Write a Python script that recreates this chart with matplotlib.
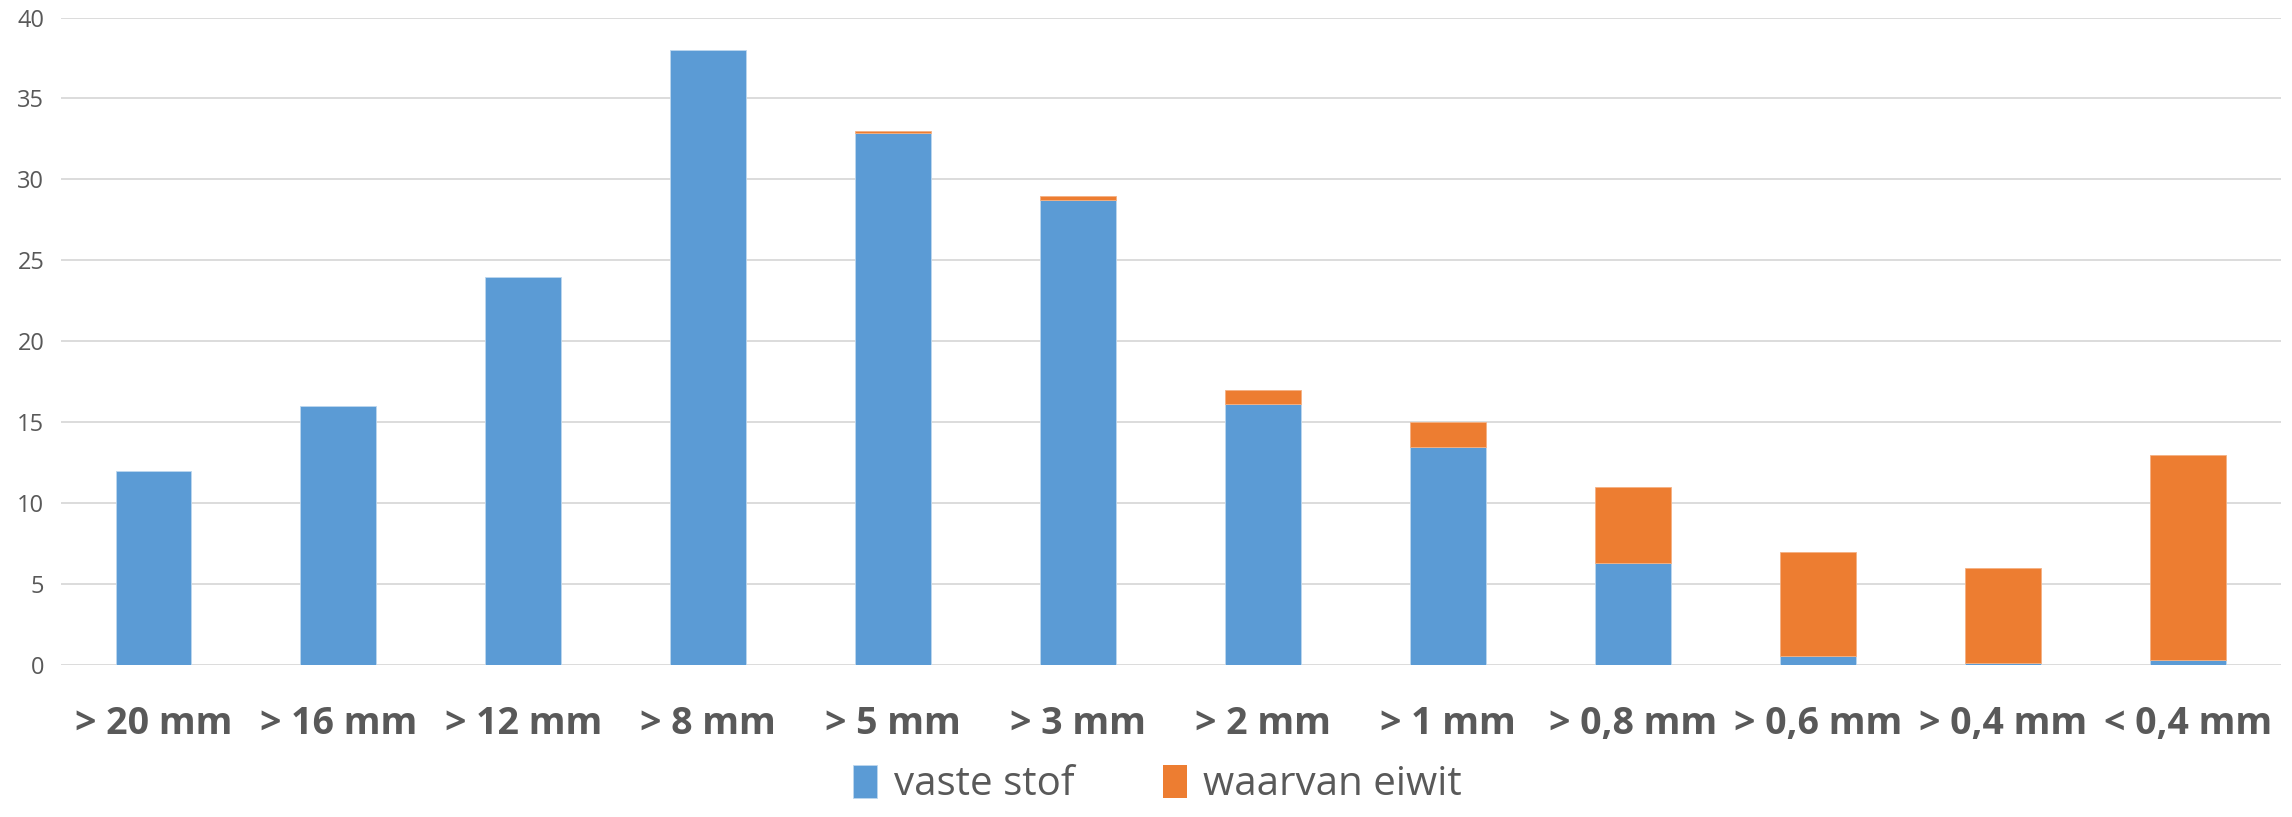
import matplotlib
matplotlib.use('Agg')
import matplotlib.pyplot as plt
import numpy as np
from matplotlib import font_manager

categories = ['> 20 mm', '> 16 mm', '> 12 mm', '> 8 mm', '> 5 mm', '> 3 mm',
              '> 2 mm', '> 1 mm', '> 0,8 mm', '> 0,6 mm', '> 0,4 mm', '< 0,4 mm']
vaste_stof = [12, 16, 24, 38, 32.85, 28.7, 16.1, 13.5, 6.3, 0.55, 0.15, 0.3]
eiwit = [0, 0, 0, 0, 0.15, 0.3, 0.9, 1.5, 4.7, 6.45, 5.85, 12.7]
yticks = [0, 5, 10, 15, 20, 25, 30, 35, 40]

names = {f.name for f in font_manager.fontManager.ttflist}
narrow = 'Liberation Sans Narrow' if 'Liberation Sans Narrow' in names else 'Open Sans'

blue = '#5B9BD5'
orange = '#ED7D31'

fig = plt.figure(figsize=(22.92, 8.17), dpi=100)
ax = fig.add_axes([0.0266, 0.186, 0.9684, 0.7925])

x = np.arange(len(categories))
ax.bar(x, vaste_stof, width=0.41, color=blue, edgecolor='#BDD7EE', linewidth=0.6,
       label='vaste stof', zorder=3)
# no edge on the empty protein segments
edges = ['#F4B183' if v > 0 else 'none' for v in eiwit]
ax.bar(x, eiwit, width=0.41, bottom=vaste_stof, color=orange, edgecolor=edges,
       linewidth=0.6, label='waarvan eiwit', zorder=3)

ax.set_xlim(-0.5, len(categories) - 0.5)
ax.set_ylim(0, 40)
ax.set_yticks(yticks)
ax.yaxis.grid(True, color='#D9D9D9', linewidth=1.3, zorder=0)
ax.set_axisbelow(True)
for s in ax.spines.values():
    s.set_visible(False)
ax.tick_params(axis='both', length=0)
ax.tick_params(axis='y', pad=12, labelsize=17, labelcolor='#595959')
ax.set_xticks(x)
ax.set_xticklabels(categories, fontsize=27, fontweight='bold', color='#595959',
                   family=narrow)
ax.tick_params(axis='x', pad=29)
for lab in ax.get_yticklabels():
    lab.set_family('Open Sans')

leg = fig.legend(loc='lower center', ncol=2, frameon=False,
                 bbox_to_anchor=(0.505, -0.03),
                 prop={'family': narrow, 'size': 29},
                 handlelength=0.6, handleheight=0.9, handletextpad=0.4,
                 columnspacing=2.2)
for t in leg.get_texts():
    t.set_color('#595959')

fig.savefig('out.png', dpi=100)
